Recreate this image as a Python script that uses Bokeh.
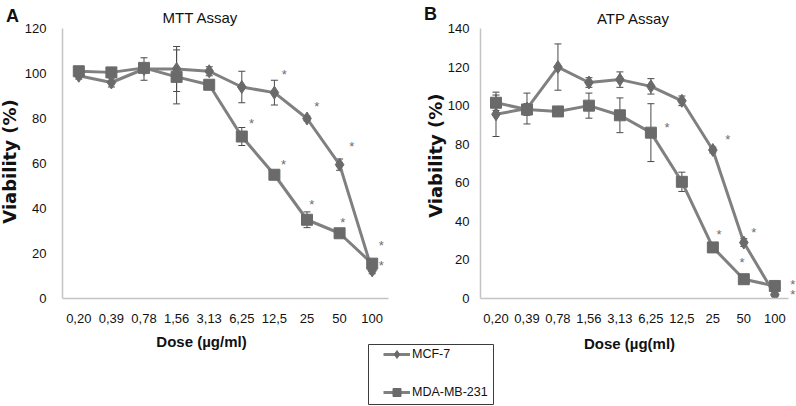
import math
from bokeh.plotting import figure
from bokeh.models import (ColumnDataSource, Whisker, TeeHead, Label, Legend, LegendItem,
                          FixedTicker, Range1d, Spacer)
from bokeh.layouts import row, column
from bokeh.embed import file_html
from bokeh.resources import INLINE
from bokeh.core.properties import value

# ---------------- data ----------------
doses = ["0,20", "0,39", "0,78", "1,56", "3,13", "6,25", "12,5", "25", "50", "100"]

mtt_mcf7 = [99, 96, 102, 102, 101, 94, 91.5, 80, 59.5, 12.5]
mtt_mcf7_err = [1.5, 2, 5, 10, 2, 7, 5.5, 1, 2.5, 1.5]
mtt_mda = [101, 100.5, 102.5, 98.5, 95, 72, 55, 35, 29, 15.5]
mtt_mda_err = [1, 1, 2, 12, 1.5, 4, 1.5, 3.5, 1, 2]

atp_mcf7 = [95.5, 98.5, 120, 112, 113.5, 110, 102.5, 77, 29, 2]
atp_mcf7_err = [11.5, 8, 12, 2.5, 4, 4, 2.5, 1.5, 2, 1]
atp_mda = [101.5, 98, 97, 100, 95, 86, 60.5, 26.5, 10, 6.5]
atp_mda_err = [4, 3, 1, 6.5, 9, 15, 5, 1.5, 1, 1]

# significance asterisks: dose index and viability level of each "*"
mtt_mcf7_star_idx = [6, 7, 8, 9]
mtt_mcf7_star_val = [101, 86.5, 69, 25]
mtt_mda_star_idx = [5, 6, 7, 8, 9]
mtt_mda_star_val = [79, 61, 43, 35, 16]
atp_mcf7_star_idx = [7, 8, 9]
atp_mcf7_star_val = [84, 36, 9]
atp_mda_star_idx = [6, 7, 8, 9]
atp_mda_star_val = [90, 35, 20, 3.5]

# horizontal nudges of the asterisks (layout only)
mtt_mcf7_star_dx = [0.3, 0.3, 0.37, 0.28]
mtt_mda_star_dx = [0.3, 0.28, 0.15, 0.1, 0.28]
atp_mcf7_star_dx = [0.48, 0.32, 0.58]
atp_mda_star_dx = [-0.48, 0.2, -0.06, 0.58]

y_ticks_mtt = [0, 20, 40, 60, 80, 100, 120]
y_ticks_atp = [0, 20, 40, 60, 80, 100, 120, 140]

series_names = ["MCF-7", "MDA-MB-231"]

# ---------------- style ----------------
LINE = "#808080"
MARK = "#6a6a6a"
ERR = "#4a4a4a"
AXIS = "#c4c4c4"
TXT = "#111111"
STAR = "#6e6e6e"
SANS = "Liberation Sans"
BOLDF = "DejaVu Sans"
W, H = 796, 406


def make_panel(width, height, mb, x_end, axis_end, y_end, yticks, ystandoff,
               mcf7, mcf7_err, mda, mda_err, s1_idx, s1_val, s1_dx, s2_idx, s2_val, s2_dx):
    p = figure(width=width, height=height, output_backend="svg", toolbar_location=None,
               x_range=Range1d(-0.5, x_end), y_range=Range1d(0, y_end),
               min_border_left=mb[0], min_border_top=mb[1], min_border_right=mb[2],
               min_border_bottom=mb[3])
    p.outline_line_color = None
    p.grid.visible = False
    p.background_fill_color = "white"
    p.border_fill_color = "white"

    xs = list(range(len(doses)))
    for a in (p.xaxis[0], p.yaxis[0]):
        a.axis_line_color = AXIS
        a.axis_line_width = 1.5
        a.major_tick_line_color = None
        a.minor_tick_line_color = None
        a.major_label_text_font = SANS
        a.major_label_text_font_size = "13px"
        a.major_label_text_color = TXT
    p.xaxis[0].ticker = FixedTicker(ticks=xs)
    p.xaxis[0].major_label_overrides = {i: d for i, d in enumerate(doses)}
    p.xaxis[0].major_label_standoff = 9
    p.xaxis[0].bounds = (-0.5, axis_end)
    p.yaxis[0].ticker = FixedTicker(ticks=yticks)
    p.yaxis[0].major_label_standoff = ystandoff

    for vals, errs, marker, msize in ((mcf7, mcf7_err, "diamond", 13), (mda, mda_err, "square", 11)):
        src = ColumnDataSource(dict(x=xs, y=vals,
                                    upper=[v + e for v, e in zip(vals, errs)],
                                    lower=[v - e for v, e in zip(vals, errs)]))
        p.add_layout(Whisker(base="x", upper="upper", lower="lower", source=src,
                             line_color=ERR, line_width=1,
                             upper_head=TeeHead(size=7, line_color=ERR, line_width=1),
                             lower_head=TeeHead(size=7, line_color=ERR, line_width=1)))
        p.line("x", "y", source=src, line_color=LINE, line_width=3)
        p.scatter("x", "y", source=src, marker=marker, size=msize,
                  fill_color=MARK, line_color=MARK)

    for idx, val, dx in ((s1_idx, s1_val, s1_dx), (s2_idx, s2_val, s2_dx)):
        p.text(x=[i + d for i, d in zip(idx, dx)], y=val, text=["*"] * len(idx),
               text_font=value(SANS), text_font_size="13px",
               text_color=STAR, text_align="center", text_baseline="middle", y_offset=3)
    return p


# Panel A (MTT)
pa = make_panel(410, 352, (62, 28, 22, 54), 9.5, 9.5, 120, y_ticks_mtt, 10,
                mtt_mcf7, mtt_mcf7_err, mtt_mda, mtt_mda_err,
                mtt_mcf7_star_idx, mtt_mcf7_star_val, mtt_mcf7_star_dx,
                mtt_mda_star_idx, mtt_mda_star_val, mtt_mda_star_dx)
# Panel B (ATP)
pb = make_panel(386, 352, (70, 8, 0, 54), 9.7, 9.45, 140, y_ticks_atp, 5,
                atp_mcf7, atp_mcf7_err, atp_mda, atp_mda_err,
                atp_mcf7_star_idx, atp_mcf7_star_val, atp_mcf7_star_dx,
                atp_mda_star_idx, atp_mda_star_val, atp_mda_star_dx)

# Legend box (own small figure, pulled up under the panels)
lf = figure(width=127, height=62, output_backend="svg", toolbar_location=None,
            x_range=Range1d(0, 1), y_range=Range1d(0, 1), min_border=1)
lf.axis.visible = False
lf.grid.visible = False
lf.outline_line_color = "#3c3c3c"
lf.outline_line_width = 1
lf.border_fill_alpha = 0
lf.background_fill_alpha = 0
nan = float("nan")
l1 = lf.line([nan], [nan], line_color=LINE, line_width=3)
m1 = lf.scatter([nan], [nan], marker="diamond", size=13, fill_color=MARK, line_color=MARK)
l2 = lf.line([nan], [nan], line_color=LINE, line_width=3)
m2 = lf.scatter([nan], [nan], marker="square", size=11, fill_color=MARK, line_color=MARK)
leg = Legend(items=[LegendItem(label=series_names[0], renderers=[l1, m1]),
                    LegendItem(label=series_names[1], renderers=[l2, m2])],
             location=(15, 2), padding=0, margin=0, spacing=18,
             glyph_width=27, glyph_height=20, label_height=20, label_standoff=2,
             border_line_color=None, background_fill_alpha=0,
             label_text_font=SANS, label_text_font_size="12.5px", label_text_color=TXT)
lf.add_layout(leg)
lf.margin = (-9, 0, 0, 0)

# Transparent overlay (page pixel space) carrying titles, panel letters and axis titles
ov = figure(width=W, height=H, output_backend="svg", toolbar_location=None,
            x_range=Range1d(0, W), y_range=Range1d(H, 0), min_border=0,
            x_axis_location=None, y_axis_location=None)
ov.grid.visible = False
ov.outline_line_color = None
ov.border_fill_alpha = 0
ov.background_fill_alpha = 0
ov.margin = (-405, 0, 0, 0)


def add_label(text, x, y, font, size, bold=False, angle=0.0):
    ov.add_layout(Label(x=x, y=y, text=text,
                        text_font=font, text_font_size=size,
                        text_font_style="bold" if bold else "normal",
                        text_color=TXT, text_align="center", text_baseline="middle",
                        angle=angle))


add_label("A", 12, 15, SANS, "18px", bold=True)
add_label("MTT Assay", 200, 17, SANS, "15px")
add_label("Dose (µg/ml)", 201, 341, SANS, "15px", bold=True)
add_label("Viability (%)", 9, 161, BOLDF, "18px", bold=True, angle=math.pi / 2)

add_label("B", 430, 13, SANS, "18px", bold=True)
add_label("ATP Assay", 633, 18, SANS, "15px")
add_label("Dose (µg(ml)", 629, 343, SANS, "15px", bold=True)
add_label("Viability  (%)", 435, 152, BOLDF, "18px", bold=True, angle=math.pi / 2)

layout = column(row(pa, pb, spacing=0),
                row(Spacer(width=367, height=10), lf, spacing=0),
                ov, spacing=0)

open("out.html", "w").write(file_html(layout, INLINE))
